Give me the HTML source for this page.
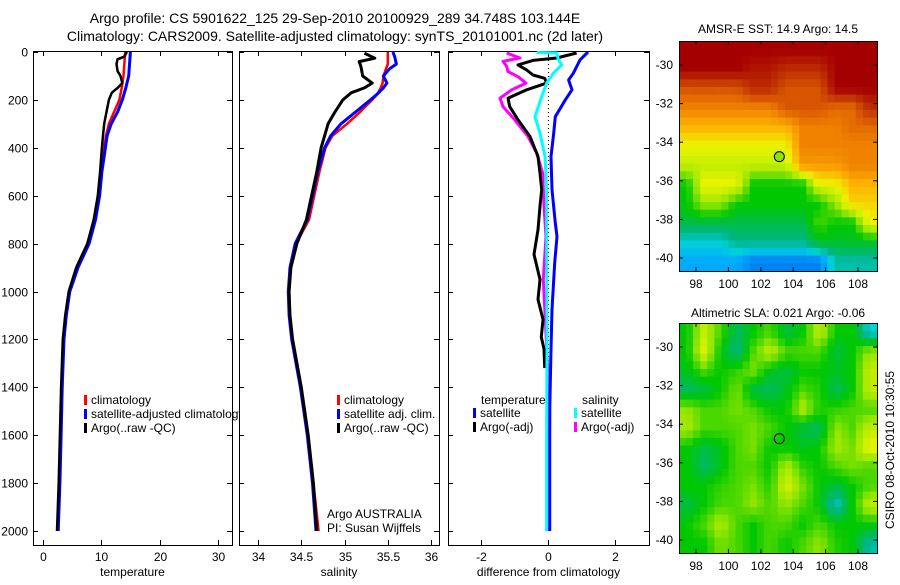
<!DOCTYPE html>
<html><head><meta charset="utf-8"><style>
body{margin:0;background:#fff;width:900px;height:580px;overflow:hidden}
svg{font-family:"Liberation Sans",sans-serif;font-size:12px}
</style></head><body>
<svg id="c" width="900" height="580" viewBox="0 0 900 580">
<text x="335" y="23" text-anchor="middle" font-size="14">Argo profile: CS 5901622_125 29-Sep-2010 20100929_289 34.748S 103.144E</text>
<text x="335" y="41" text-anchor="middle" font-size="14">Climatology: CARS2009. Satellite-adjusted climatology: synTS_20101001.nc (2d later)</text>
<text x="778" y="33" text-anchor="middle" font-size="12">AMSR-E SST: 14.9 Argo: 14.5</text>
<text x="778" y="317" text-anchor="middle" font-size="12">Altimetric SLA: 0.021 Argo: -0.06</text>
<text transform="translate(894,450) rotate(-90)" text-anchor="middle" font-size="12">CSIRO 08-Oct-2010 10:30:55</text>
</svg>
<script>
// ---- data ----
const tempDepth=[0,100,150,200,250,300,350,400,500,600,700,800,900,1000,1100,1200,1400,1600,1800,2000];
const tempSat=[15.0,14.7,14.2,13.6,12.8,11.7,11.0,10.7,10.1,9.7,9.0,7.9,6.0,4.6,4.0,3.6,3.3,3.1,2.9,2.6];
const tempClim=[14.1,13.8,13.5,13.1,12.2,11.3,10.8,10.5,10.0,9.6,8.9,7.8,5.9,4.5,3.9,3.5,3.2,3.0,2.8,2.6];
const argoTDepth=[0,20,30,50,80,100,130,150,170,200,250,300,350,400,500,600,700,800,900,1000,1100,1200,1400,1600,1800,2000];
const argoTemp=[14.4,13.9,12.8,12.6,12.8,13.3,13.6,12.8,11.8,11.3,10.9,10.5,10.3,10.1,9.8,9.4,8.7,7.6,5.7,4.4,3.8,3.4,3.1,2.9,2.7,2.4];
const salDepth=[0,20,50,70,100,130,150,175,200,250,300,350,400,500,600,700,800,900,1000,1100,1200,1400,1600,1800,2000];
const salSat=[35.56,35.58,35.60,35.52,35.45,35.49,35.45,35.38,35.30,35.13,34.96,34.84,34.77,34.69,34.63,34.57,34.43,34.37,34.35,34.36,34.39,34.49,34.57,34.63,34.67];
const salClim=[35.50,35.50,35.50,35.48,35.45,35.44,35.42,35.38,35.32,35.18,35.03,34.86,34.78,34.71,34.65,34.59,34.44,34.38,34.36,34.37,34.40,34.50,34.58,34.64,34.70];
const argoSDepth=[5,26,40,60,100,130,150,170,200,250,300,350,400,500,600,700,800,900,1000,1100,1200,1400,1600,1800,2000];
const argoSal=[35.23,35.35,35.17,35.19,35.21,35.32,35.23,35.08,34.98,34.89,34.81,34.77,34.73,34.68,34.62,34.56,34.45,34.38,34.36,34.37,34.40,34.50,34.58,34.64,34.68];
const dTSatDepth=[0,33,89,117,158,200,270,339,436,575,714,770,880,1075,1240,1500,2000];
const dTSat=[1.2,0.96,0.76,0.62,0.72,0.52,0.22,0.17,0.09,0.12,0.22,0.27,0.2,0.12,0.09,0.05,0.05];
const dTArgoDepth=[4,25,35,54,75,96,110,130,158,193,228,283,353,436,506,575,644,742,845,950,1033,1117,1190,1240,1320];
const dTArgo=[0.86,0.26,-0.45,-0.9,-0.64,-0.45,-0.1,-0.04,-0.64,-1.2,-1.15,-0.9,-0.54,-0.3,-0.24,-0.19,-0.24,-0.3,-0.42,-0.24,-0.3,-0.15,-0.2,-0.12,-0.1];
const dSSatDepth=[2,4,31,54,89,130,186,270,339,436,575,800,1200,1600,2000];
const dSSat=[-0.34,0.26,0.31,0.41,0.16,-0.04,-0.19,-0.39,-0.24,-0.09,-0.04,-0.04,-0.03,-0.04,-0.04];
const dSArgoDepth=[4,25,39,60,82,103,130,158,193,228,283,353,422,506,644,770,950,1200,1500,2000];
const dSArgo=[-1.24,-0.84,-1.35,-1.24,-1.2,-0.9,-0.66,-1.09,-1.44,-1.35,-1.0,-0.6,-0.34,-0.16,-0.12,-0.06,-0.14,-0.05,0.05,0.02];
const depthTicks=[0,200,400,600,800,1000,1200,1400,1600,1800,2000];
const tTicks=[0,10,20,30];
const sTicks=[34,34.5,35,35.5,36];
const dTicks=[-2,0,2];
const sstGrid=[
[10,10,10,10,10,10,10,10,10,10,10,10],
[10,10,10,10,9.5,9.5,9,9,9,10,10,10],
[8,8,8,8,9,9,8,8,8,10,10,10],
[7,7,7,7,7,7,8,8,8,7.5,7.5,9],
[6,6,6,6,6,6,6,7,7,7,7.5,7.5],
[5,5,5,5,5,5,5,7,7,7,7,7],
[4.5,4.5,4.5,4.5,4.5,4.5,4.5,6.5,6.5,6.5,7,7],
[3,5,5,5,3,3,3,3,5,5,6,6],
[3,4,4,3,3,3,3,3,3,4,5.5,5.5],
[2.5,2.5,2.5,2.5,2.5,2.5,2.5,2.5,3.5,3,3,5],
[1.5,1.5,1.5,2,2,2,2,2,2.7,2.7,2.7,2.7],
[1,1,1,1,0.5,0.5,0.5,0.5,0.5,1.8,1.8,1.8]];
const slaGrid=[
[3,4.5,3.5,2.3,3,3.5,2.5,3,4.5,3,3,1.5],
[3,4.8,3,2,3.5,4.5,3.5,3.5,3.5,2.5,3,4],
[2.8,3.5,3,3.3,3.8,2.8,2.5,3,3,2.8,3,4.5],
[2.3,2.5,3,3.8,2.5,2.3,2.8,3.5,3.2,2.3,3,4.5],
[4,3.5,3.5,3.8,3.5,3,3,4.3,3.2,3.3,3.5,3.5],
[4.2,3.5,3.5,3.5,3.8,3.5,3,2.5,2.3,4,3.5,4.5],
[3,2.5,2.8,3.5,3.8,3,3,2.8,3,4.2,3.8,5],
[3,2.3,2.8,3.5,3.5,3,4.3,3.3,3,3.5,3.8,3.5],
[3,3,3.3,3.5,3.8,3.2,4.8,3.8,3,2.5,3,3.5],
[2.5,3,3.5,3.5,4,3.5,4,3.5,3,1.5,3,4.5],
[3,3.5,4.3,3.5,3,3.5,3.5,3,3.5,3,3,3],
[3,3,3.8,3.5,3,3.5,3,3.5,4,3.2,3,1.8]];
const latTicks=[-30,-32,-34,-36,-38,-40];
const lonTicks=[98,100,102,104,106,108];
const argoLon=103.144, argoLat=-34.748;

// ---- drawing ----
const svg=document.getElementById('c');
const NS='http://www.w3.org/2000/svg';
function mk(tag,attrs,parent){const e=document.createElementNS(NS,tag);for(const k in attrs)e.setAttribute(k,attrs[k]);(parent||svg).appendChild(e);return e;}
const TOP=51,BOT=545;
const yD=d=>52+0.2395*d;
const panels=[
 {name:'temperature-panel',x0:33,x1:232,xs:v=>43+5.83*v,ticks:tTicks,title:'temperature',tl:v=>String(v)},
 {name:'salinity-panel',x0:239,x1:439,xs:v=>258+86.5*(v-34),ticks:sTicks,title:'salinity',tl:v=>String(v)},
 {name:'difference-panel',x0:448,x1:649,xs:v=>548+33.3*v,ticks:dTicks,title:'difference from climatology',tl:v=>String(v)}];
panels.forEach((p,i)=>{
  const g=mk('g',{});
  
  
  const fr=mk('rect',{x:p.x0+.5,y:TOP+.5,width:p.x1-p.x0,height:BOT-TOP,fill:'#fff',stroke:'#000'},g);
  
  
  depthTicks.forEach(d=>{
    const y=Math.round(yD(d))+.5;
    mk('line',{x1:p.x0,x2:p.x0+5,y1:y,y2:y,stroke:'#000'},g);
    mk('line',{x1:p.x1-5,x2:p.x1,y1:y,y2:y,stroke:'#000'},g);
    if(i===0){const t=mk('text',{x:28,y:y+4,'text-anchor':'end'},g);t.textContent=d;
      
      }
  });
  p.ticks.forEach(v=>{
    const x=Math.round(p.xs(v))+.5;
    mk('line',{x1:x,x2:x,y1:TOP,y2:TOP+5,stroke:'#000'},g);
    mk('line',{x1:x,x2:x,y1:BOT-5,y2:BOT,stroke:'#000'},g);
    const t=mk('text',{x:x,y:561,'text-anchor':'middle'},g);t.textContent=p.tl(v);
    
    
  });
  const at=mk('text',{x:(p.x0+p.x1)/2,y:576,'text-anchor':'middle'},g);at.textContent=p.title;
  
  
  p.g=g;
});
function line(p,depths,vals,color,w,name,dash){
  const pts=depths.map((d,k)=>p.xs(vals[k]).toFixed(1)+','+yD(d).toFixed(1)).join(' ');
  const l=mk('polyline',{points:pts,fill:'none',stroke:color,'stroke-width':w,'stroke-linejoin':'round'},p.g);
  if(dash)l.setAttribute('stroke-dasharray',dash);
  
  
}
const [P1,P2,P3]=panels;
line(P1,tempDepth,tempClim,'#f00',2.5,'temp-climatology-line');
line(P1,tempDepth,tempSat,'#00f',3,'temp-satellite-line');
line(P1,argoTDepth,argoTemp,'#000',2.5,'temp-argo-line');
line(P2,salDepth,salClim,'#f00',2.5,'sal-climatology-line');
line(P2,salDepth,salSat,'#00f',3,'sal-satellite-line');
line(P2,argoSDepth,argoSal,'#000',3,'sal-argo-line');
const z=mk('line',{x1:548.5,x2:548.5,y1:yD(0),y2:yD(2000),stroke:'#000','stroke-dasharray':'1,3'},P3.g);


line(P3,dSArgoDepth,dSArgo,'#f0f',3,'sal-argo-diff-line');
line(P3,dTArgoDepth,dTArgo,'#000',3,'temp-argo-diff-line');
line(P3,dTSatDepth,dTSat,'#00f',3,'temp-satellite-diff-line');
line(P3,dSSatDepth,dSSat,'#0ff',3,'sal-satellite-diff-line');

function legend(p,x,y,color,label){
  const g=mk('g',{},p.g);
  
  
  mk('rect',{x:x,y:y-9,width:3,height:10,fill:color},g);
  const t=mk('text',{x:x+7,y:y},g);t.textContent=label;
}
svg.appendChild(mk('clipPath',{id:'cp1'}));
mk('rect',{x:33,y:51,width:207,height:494},document.getElementById('cp1'));
legend(P1,84,404,'#f00','climatology');
legend(P1,84,418,'#00f','satellite-adjusted climatology');
legend(P1,84,432,'#000','Argo(..raw -QC)');
P1.g.lastChild.previousSibling.setAttribute('clip-path','url(#cp1)');
legend(P2,337,404,'#f00','climatology');
legend(P2,337,418,'#00f','satellite adj. clim.');
legend(P2,337,432,'#000','Argo(..raw -QC)');
let t=mk('text',{x:327,y:518},P2.g);t.textContent='Argo AUSTRALIA';


t=mk('text',{x:327,y:532},P2.g);t.textContent='PI: Susan Wijffels';


t=mk('text',{x:481,y:404},P3.g);t.textContent='temperature';


t=mk('text',{x:582,y:404},P3.g);t.textContent='salinity';


legend(P3,473,417,'#00f','satellite');
legend(P3,473,431,'#000','Argo(-adj)');
legend(P3,574,417,'#0ff','satellite');
legend(P3,574,431,'#f0f','Argo(-adj)');

// maps
const cstops=[[0,[0,90,230]],[1,[0,170,255]],[1.5,[0,210,215]],[2,[0,180,140]],[3,[0,200,0]],[4,[150,230,0]],[5,[235,245,0]],[6,[255,180,0]],[7,[240,130,0]],[8,[215,85,0]],[9,[190,45,0]],[10,[165,0,0]]];
function col(v){for(let i=1;i<cstops.length;i++){if(v<=cstops[i][0]){const a=cstops[i-1],b=cstops[i],f=(v-a[0])/(b[0]-a[0]);return 'rgb('+a[1].map((c,k)=>Math.round(c+(b[1][k]-c)*f)).join(',')+')';}}return 'rgb(165,0,0)';}
function sample(G,r,c){const n=G.length-1,m=G[0].length-1;r=Math.max(0,Math.min(n,r));c=Math.max(0,Math.min(m,c));const r0=Math.floor(r),c0=Math.floor(c),r1=Math.min(n,r0+1),c1=Math.min(m,c0+1),fr=r-r0,fc=c-c0;
 return G[r0][c0]*(1-fr)*(1-fc)+G[r0][c1]*(1-fr)*fc+G[r1][c0]*fr*(1-fc)+G[r1][c1]*fr*fc;}
function map(G,top,name,showLon,fillMarker){
  const L=679,R=877,B=top+230;
  const lonX=lo=>L+(lo-96.95)*16.2, latY=la=>top+24+(-30-la)*19.3;
  const g=mk('g',{});
  
  
  const N=30,M=28,cw=(R-L)/M,ch=(B-top)/N;
  for(let i=0;i<N;i++)for(let j=0;j<M;j++){
    const v=sample(G,(i+.5)/N*G.length-.5,(j+.5)/M*G[0].length-.5);
    mk('rect',{x:(L+j*cw).toFixed(2),y:(top+i*ch).toFixed(2),width:(cw+.6).toFixed(2),height:(ch+.6).toFixed(2),fill:col(v)},g);
  }
  const fr=mk('rect',{x:L+.5,y:top+.5,width:R-L,height:B-top,fill:'none',stroke:'#000'},g);
  
  
  latTicks.forEach(la=>{const y=latY(la);
    mk('line',{x1:L,x2:L+4,y1:y,y2:y,stroke:'#000'},g);mk('line',{x1:R-4,x2:R,y1:y,y2:y,stroke:'#000'},g);
    const t=mk('text',{x:673,y:y+4,'text-anchor':'end'},g);t.textContent=la;
    
    });
  lonTicks.forEach(lo=>{const x=lonX(lo);
    mk('line',{x1:x,x2:x,y1:top,y2:top+4,stroke:'#000'},g);mk('line',{x1:x,x2:x,y1:B-4,y2:B,stroke:'#000'},g);
    const t=mk('text',{x:x,y:B+17,'text-anchor':'middle'},g);t.textContent=lo;
    
    });
  const c=mk('circle',{cx:lonX(argoLon),cy:latY(argoLat),r:5,fill:fillMarker,stroke:'#000'},g);
  
  
}
map(sstGrid,41,'sst-map',true,'#8ee000');
map(slaGrid,323,'sla-map',true,'none');
</script>
</body></html>
